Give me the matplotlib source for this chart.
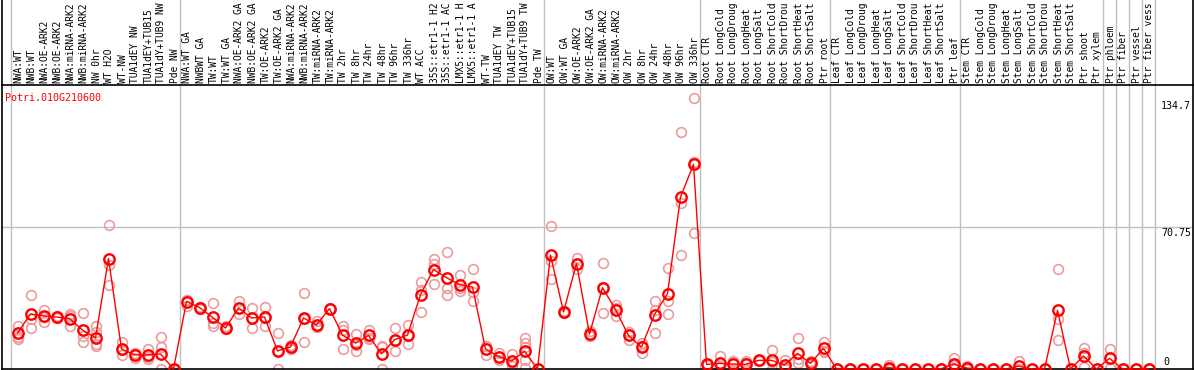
import numpy as np
import matplotlib.pyplot as plt

plt.rcParams['font.family'] = ['DejaVu Sans Mono']

gene = 'Potri.010G210600'

samples = [
    'NWA:WT', 'NWB:WT', 'NWA:OE-ARK2', 'NWB:OE-ARK2', 'NWA:miRNA-ARK2', 'NWB:miRNA-ARK2',
    'NW 0hr', 'WT H2O', 'WT-NW', 'TUA1dEY NW', 'TUA1dEY+TUB15', 'TUA1dY+TUB9 NW', 'Pde NW',
    'NWA:WT GA', 'NWBWT GA', 'TW:WT', 'TW:WT GA', 'NWA:OE-ARK2 GA', 'NWB:OE-ARK2 GA',
    'TW:OE-ARK2', 'TW:OE-ARK2 GA', 'NWA:miRNA-ARK2', 'NWB:miRNA-ARK2', 'TW:miRNA-ARK2',
    'TW:miRNA-ARK2', 'TW 2hr', 'TW 8hr', 'TW 24hr', 'TW 48hr', 'TW 96hr', 'TW 336hr',
    'WT ACC', '35S::etr1-1 H2O', '35S::etr1-1 ACC', 'LMX5::etr1-1 H2O', 'LMX5::etr1-1 ACC',
    'WT-TW', 'TUA1dEY TW', 'TUA1dEY+TUB15 TW', 'TUA1dY+TUB9 TW', 'Pde TW',
    'OW:WT', 'OW:WT GA', 'OW:OE-ARK2', 'OW:OE-ARK2 GA', 'OW:miRNA-ARK2', 'OW:miRNA-ARK2',
    'OW 2hr', 'OW 8hr', 'OW 24hr', 'OW 48hr', 'OW 96hr', 'OW 336hr',
    'Root CTR', 'Root LongCold', 'Root LongDrought', 'Root LongHeat', 'Root LongSalt',
    'Root ShortCold', 'Root ShortDrought', 'Root ShortHeat', 'Root ShortSalt', 'Ptr root',
    'Leaf CTR', 'Leaf LongCold', 'Leaf LongDrought', 'Leaf LongHeat', 'Leaf LongSalt',
    'Leaf ShortCold', 'Leaf ShortDrought', 'Leaf ShortHeat', 'Leaf ShortSalt', 'Ptr leaf',
    'Stem CTR', 'Stem LongCold', 'Stem LongDrought', 'Stem LongHeat', 'Stem LongSalt',
    'Stem ShortCold', 'Stem ShortDrought', 'Stem ShortHeat', 'Stem ShortSalt', 'Ptr shoot',
    'Ptr xylem', 'Ptr phloem', 'Ptr fiber', 'Ptr vessel', 'Ptr fiber vessel',
]

# group sizes -> gray separators
group_sizes = [13, 28, 12, 10, 10, 11, 1, 1, 1, 1]

means = [
    17.9, 27.4, 26.4, 25.9, 25.1, 19.4, 15.4, 55.0, 10.0, 7.0, 7.0, 7.5, 0.0,
    33.6, 30.6, 25.7, 20.4, 30.4, 25.4, 25.9, 9.0, 11.0, 25.4, 21.9, 30.1, 16.9, 12.9,
    16.7, 7.5, 14.6, 16.9, 37.0, 49.5, 45.5, 42.0, 40.8, 10.0, 6.2, 3.9, 8.9, 0.0,
    56.7, 28.4, 52.5, 17.4, 40.5, 29.6, 16.7, 10.9, 27.1, 37.5, 85.6, 101.9,
    2.3, 2.8, 2.5, 2.3, 4.3, 4.3, 2.0, 7.8, 2.8, 10.3,
    0.0, 0.0, 0.0, 0.0, 0.7, 0.0, 0.0, 0.0, 0.0, 2.5,
    0.5, 0.0, 0.0, 0.0, 1.4, 0.0, 0.0, 29.2, 0.0, 6.5, 0.0,
    5.3, 0.0, 0.0, 0.0,
]

replicates = [
    [21.6, 15.9, 15.0], [37.0, 20.4, 25.0], [29.6, 23.6, 26.0], [26.5, 25.5, 25.8],
    [27.2, 21.6, 26.5], [27.9, 16.6, 13.5], [21.2, 18.2, 12.5, 11.5], [71.6, 51.7, 42.0],
    [13.5, 6.9, 9.6], [7.9, 5.5, 7.6], [10.2, 4.9, 6.0], [16.0, 10.9, 0.0], [0.0, 0.0, 0.0],
    [34.6, 31.6, 34.6], [31.0, 30.0, 30.8], [33.0, 21.2, 23.0], [21.2, 20.0, 20.0],
    [33.8, 27.2, 30.2], [30.4, 20.4, 25.4], [31.0, 21.2, 25.5], [17.9, 0.0, 9.0],
    [9.9, 12.0, 11.0], [37.6, 13.5, 25.0], [23.7, 21.0, 21.0], [30.5, 29.8, 30.0],
    [21.2, 19.5, 9.9], [17.6, 9.0, 12.1], [19.6, 15.4, 15.1], [10.9, 0.0, 11.5],
    [20.4, 9.0, 14.4], [21.9, 12.2, 16.6], [43.3, 28.6, 39.1], [54.7, 52.2, 42.5],
    [58.5, 40.5, 37.0], [47.0, 38.8, 40.2], [50.0, 34.1, 38.3], [11.5, 7.2, 11.3],
    [7.9, 4.5, 6.2], [7.5, 2.9, 1.3], [15.4, 12.9, 11.2, 4.5, 0.5], [0.0, 0.0, 0.0],
    [71.1, 53.8, 44.7], [28.4, 28.9, 27.9], [55.5, 49.7, 52.3], [18.7, 16.2, 17.3],
    [52.7, 27.9, 40.9], [32.1, 26.2, 30.5], [18.4, 14.6, 17.1], [12.9, 8.2, 11.6],
    [34.1, 29.3, 17.9], [50.5, 33.8, 27.4], [117.9, 82.8, 56.7], [134.7, 67.7, 103.3],
    [2.3, 2.0, 2.6], [6.5, 1.0, 0.9], [4.1, 0.0, 3.4], [4.1, 0.0, 2.8], [4.5, 4.0, 4.4],
    [9.5, 0.0, 3.4], [4.5, 0.8, 0.7], [15.3, 4.8, 2.8], [4.1, 2.0, 2.3], [13.3, 8.6, 9.0],
    [0.0, 0.0, 0.0], [0.0, 0.0, 0.0], [0.0, 0.0, 0.0], [0.0, 0.0, 0.0], [2.1, 0.0, 0.0],
    [0.0, 0.0, 0.0], [0.0, 0.0, 0.0], [0.0, 0.0, 0.0], [0.0, 0.0, 0.0], [5.3, 2.0, 0.2],
    [1.5, 0.0, 0.0], [0.0, 0.0, 0.0], [0.0, 0.0, 0.0], [0.0, 0.0, 0.0], [4.1, 0.0, 0.0],
    [0.0, 0.0, 0.0], [0.0, 0.0, 0.0], [49.8, 24.7, 14.4], [0.0, 0.0, 0.0], [10.3, 1.2, 8.0],
    [0.0, 0.0, 0.0], [9.8, 5.6, 0.5], [0.0, 0.0, 0.0], [0.0, 0.0, 0.0], [0.0, 0.0, 0.0],
]

y_ticks = [0, 70.75, 134.7]
y_top = 141.4
max_chars = 14  # the header row only has room for this many characters

W, H = 1194, 370
fig = plt.figure(figsize=(W / 100, H / 100), dpi=100)
ax = fig.add_axes([1.5 / W, 1 / H, 1191 / W, 284 / H])

n = len(samples)
x = np.arange(n)
ax.set_xlim((1.5 - 17.5) / 13, (1192.5 - 17.5) / 13)
ax.set_ylim(0, y_top)
ax.set_xticks([])
ax.set_yticks([])
for s in ax.spines.values():
    s.set_linewidth(1.2)
    s.set_color('black')

ext = 1 + 86 / 284  # reach up to the top of the figure

# group separators
edges = np.concatenate([[0], np.cumsum(group_sizes)]) - 0.5
for e in edges:
    ax.plot([e, e], [0, ext], color='#c0c0c0', lw=1, transform=ax.get_xaxis_transform(),
            clip_on=False, zorder=0)
ax.axhline(y_ticks[1], color='#c0c0c0', lw=1, zorder=0)

# outer frame above the axes
for xa in (0, 1):
    ax.plot([xa, xa], [1, ext], color='black', lw=1.2, transform=ax.transAxes, clip_on=False)

# replicates
for i, reps in enumerate(replicates):
    ax.plot([i] * len(reps), reps, 'o', ms=7, mfc='none', mec='#ec9c9c', mew=1.2,
            clip_on=False, zorder=2)

# means
ax.plot(x, means, '-', color='red', lw=1, zorder=3, clip_on=False)
ax.plot(x, means, 'o', ms=7.5, mfc='none', mec='red', mew=1.7, zorder=4, clip_on=False)

# sample labels
for i, lab in enumerate(samples):
    ax.annotate(lab[:max_chars], xy=(i, 1), xycoords=('data', 'axes fraction'), xytext=(1, 2),
                textcoords='offset pixels', rotation=90, ha='center', va='bottom',
                fontsize=6.9, color='black', annotation_clip=False)

ax.text(0.003, 0.955, gene, transform=ax.transAxes, color='red', fontsize=7.2,
        ha='left', va='center')

# value labels on the right
xr = (1161 - 17.5) / 13
ax.annotate(f'{y_ticks[2]}', xy=(xr, y_ticks[2]), xytext=(0, -3), textcoords='offset pixels',
            ha='left', va='top', fontsize=7.2)
ax.annotate(f'{y_ticks[1]}', xy=(xr, y_ticks[1]), xytext=(0, -1), textcoords='offset pixels',
            ha='left', va='top', fontsize=7.2)
ax.annotate(f'{y_ticks[0]}', xy=(xr + 0.2, y_ticks[0]), xytext=(0, 2), textcoords='offset pixels',
            ha='left', va='bottom', fontsize=7.2)

fig.savefig('out.png', dpi=100)
